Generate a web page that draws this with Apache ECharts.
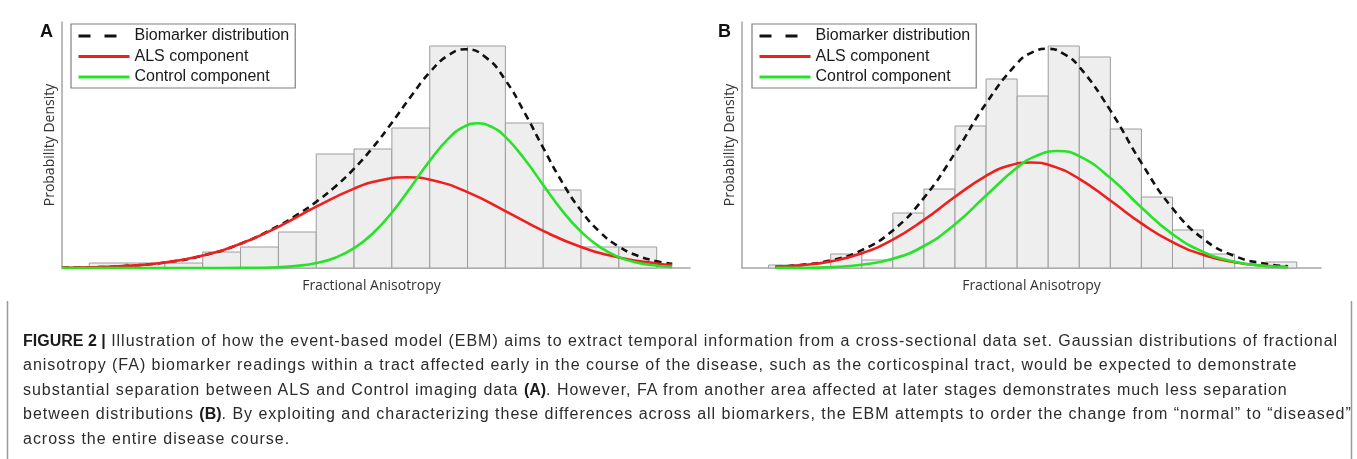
<!DOCTYPE html>
<html>
<head>
<meta charset="utf-8">
<script src="https://cdn.jsdelivr.net/npm/echarts@6/dist/echarts.min.js"></script>
<style>
html,body{margin:0;padding:0;background:#ffffff;}
#wrap{position:relative;width:1357px;height:459px;overflow:hidden;}
#chart{position:absolute;left:0;top:0;width:1357px;height:459px;}
#caption{position:absolute;left:23px;top:328.75px;font-family:'Liberation Sans',Arial,sans-serif;font-size:16px;
  line-height:24.5px;color:#2b2b2b;letter-spacing:0.98px;white-space:nowrap;}
#caption b{letter-spacing:0;color:#1a1a1a;}
</style>
</head>
<body>
<div id="wrap">
<div id="chart"></div>
<div id="caption"></div>
</div>
<script>
// ---------------- DATA ----------------
// Panel A histogram: bar i spans [i, i+1] on the FA axis (bin units)
const histA = [0.05, 0.05, 0.05, 0.16, 0.21, 0.36, 1.14, 1.19, 1.40, 2.22, 2.22, 1.45, 0.78, 0.21, 0.21];
// Panel B histogram
const histB = [0.03, 0, 0.14, 0.08, 0.55, 0.79, 1.42, 1.89, 1.72, 2.22, 2.11, 1.39, 0.71, 0.38, 0.14, 0, 0.06];

// Panel A curves: [x, density]
const totalX_A = [-0.72, 0, 1, 2, 3, 4, 5, 5.5, 6, 6.5, 7, 7.5, 8, 8.5, 9, 9.5, 9.95, 10.5, 11, 11.5, 12, 12.5, 13, 13.5, 14, 14.5, 15, 15.41];
const totalA   = [0.003, 0.007, 0.021, 0.055, 0.124, 0.243, 0.421, 0.533, 0.662, 0.813, 0.993, 1.207, 1.453, 1.714, 1.956, 2.129, 2.187, 2.101, 1.879, 1.559, 1.201, 0.859, 0.573, 0.359, 0.214, 0.122, 0.068, 0.042];
const alsX_A   = [-0.72, 0, 1, 2, 3, 4, 5, 6, 7, 7.7, 8.39, 9.1, 10, 11, 12, 13, 14, 15, 15.41];
const alsA     = [0.003, 0.007, 0.021, 0.055, 0.124, 0.242, 0.412, 0.613, 0.794, 0.878, 0.907, 0.876, 0.759, 0.569, 0.371, 0.211, 0.105, 0.045, 0.031];
const ctrlX_A  = [-0.72, 0, 1, 2, 3, 4, 5, 5.5, 6, 6.5, 7, 7.5, 8, 8.5, 9, 9.5, 9.9, 10.27, 10.65, 11, 11.5, 12, 12.5, 13, 13.5, 14, 14.5, 15, 15.41];
const ctrlA    = [0, 0, 0, 0, 0, 0.001, 0.008, 0.021, 0.049, 0.103, 0.198, 0.348, 0.555, 0.808, 1.072, 1.296, 1.411, 1.447, 1.409, 1.311, 1.092, 0.830, 0.574, 0.362, 0.208, 0.109, 0.052, 0.023, 0.011];

// Panel B curves
const totalX_B = [0.22, 1, 2, 3, 4, 5, 6, 7, 8, 8.5, 9, 9.5, 10, 11, 12, 13, 14, 15, 16, 16.72];
const totalB   = [0.012, 0.029, 0.076, 0.179, 0.376, 0.701, 1.149, 1.646, 2.047, 2.159, 2.192, 2.141, 2.012, 1.576, 1.051, 0.597, 0.289, 0.120, 0.042, 0.018];
const alsX_B   = [0.22, 1, 2, 3, 4, 5, 6, 7, 7.7, 8.42, 9.15, 10, 11, 12, 13, 14, 15, 16, 16.72];
const alsB     = [0.012, 0.026, 0.066, 0.147, 0.284, 0.481, 0.712, 0.921, 1.019, 1.055, 1.018, 0.892, 0.675, 0.446, 0.258, 0.131, 0.058, 0.022, 0.010];
const ctrlX_B  = [0.22, 1, 2, 3, 4, 5, 6, 7, 8, 8.6, 9.3, 10, 11, 12, 13, 14, 15, 16, 16.72];
const ctrlB    = [0.001, 0.002, 0.009, 0.032, 0.092, 0.220, 0.437, 0.725, 1.004, 1.119, 1.170, 1.119, 0.901, 0.605, 0.339, 0.159, 0.062, 0.020, 0.008];

const seriesNames = ['Biomarker distribution', 'ALS component', 'Control component'];
const panelLabels = ['A', 'B'];
const xAxisName = 'Fractional Anisotropy';
const yAxisName = 'Probability Density';
const captionLines = [
  '{b|FIGURE 2 |} Illustration of how the event-based model (EBM) aims to extract temporal information from a cross-sectional data set. Gaussian distributions of fractional',
  'anisotropy (FA) biomarker readings within a tract affected early in the course of the disease, such as the corticospinal tract, would be expected to demonstrate',
  'substantial separation between ALS and Control imaging data {b|(A)}. However, FA from another area affected at later stages demonstrates much less separation',
  'between distributions {b|(B)}. By exploiting and characterizing these differences across all biomarkers, the EBM attempts to order the change from \u201cnormal\u201d to \u201cdiseased\u201d',
  'across the entire disease course.'
];

// ---------------- CAPTION (real text) ----------------
(function () {
  const esc = s => s.replace(/&/g, '&amp;').replace(/</g, '&lt;').replace(/>/g, '&gt;');
  document.getElementById('caption').innerHTML = captionLines.map(line =>
    '<div>' + esc(line).replace(/\{b\|([^}]*)\}/g, '<b>$1</b>') + '</div>').join('');
})();

// ---------------- CHART ----------------
const chart = echarts.init(document.getElementById('chart'), null, {renderer: 'canvas'});

const pair = (xs, ys) => xs.map((x, i) => [x, ys[i]]);
const histData = h => h.map((v, i) => [i, i + 1, v]);

const RED = '#f01f1f', GREEN = '#27e327', BLACK = '#111111';
const AXIS_COLOR = '#a6a6a6';

function renderBar(params, api) {
  const h = api.value(2);
  if (!(h > 0)) return null;
  const p0 = api.coord([api.value(0), h]);
  const p1 = api.coord([api.value(1), 0]);
  return {
    type: 'rect',
    shape: {x: p0[0], y: p0[1], width: p1[0] - p0[0], height: p1[1] - p0[1]},
    style: {fill: '#eeeeee', stroke: '#9c9c9c', lineWidth: 1}
  };
}

function lineSeries(idx, name, data, color, dash) {
  return {name: name, type: 'line', xAxisIndex: idx, yAxisIndex: idx, data: data,
    smooth: 0.5, symbol: 'none', color: color,
    lineStyle: {color: color, width: 2.6, type: dash || 'solid'}};
}

function panelSeries(idx, hist, total, als, ctrl) {
  const s = [
    {type: 'custom', xAxisIndex: idx, yAxisIndex: idx, renderItem: renderBar,
     data: histData(hist), encode: {x: [0, 1], y: 2}, silent: true, z: 1},
    lineSeries(idx, seriesNames[0], total, BLACK, [7, 5]),
    lineSeries(idx, seriesNames[1], als, RED),
    lineSeries(idx, seriesNames[2], ctrl, GREEN)
  ];
  s[1].z = 3; s[2].z = 4; s[3].z = 5;
  return s;
}

function xAxisDef(idx, min, max, padRight) {
  return {
    type: 'value', gridIndex: idx, min: min, max: max,
    axisLine: {show: true, onZero: false, lineStyle: {color: AXIS_COLOR, width: 1.5}},
    axisTick: {show: false}, axisLabel: {show: false}, splitLine: {show: false},
    name: xAxisName, nameLocation: 'middle', nameGap: 11,
    nameTextStyle: {fontFamily: 'Open Sans', fontSize: 14, color: '#333', padding: [0, padRight, 0, 0]}
  };
}
function yAxisDef(idx) {
  return {
    type: 'value', gridIndex: idx, min: 0, max: 2.46,
    axisLine: {show: true, onZero: false, lineStyle: {color: AXIS_COLOR, width: 1.5}},
    axisTick: {show: false}, axisLabel: {show: false}, splitLine: {show: false},
    name: yAxisName, nameLocation: 'middle', nameGap: 5,
    nameTextStyle: {fontFamily: 'Open Sans', fontSize: 14, color: '#333'}
  };
}
function legendDef(left) {
  return {
    left: left, top: 24, orient: 'vertical',
    itemWidth: 51, itemHeight: 16, itemGap: 4.5,
    padding: [4, 6, 3, 6],
    borderColor: '#808080', borderWidth: 1.2, borderRadius: 0,
    backgroundColor: '#ffffff',
    selectedMode: false,
    itemStyle: {opacity: 0},
    textStyle: {fontFamily: 'Liberation Sans', fontSize: 16, color: '#1a1a1a', lineHeight: 16},
    data: [
      {name: seriesNames[0], itemStyle: {opacity: 0}, lineStyle: {type: [12, 14], width: 3, color: BLACK}},
      {name: seriesNames[1], itemStyle: {opacity: 0}, lineStyle: {width: 3, color: RED}},
      {name: seriesNames[2], itemStyle: {opacity: 0}, lineStyle: {width: 3, color: GREEN}}
    ]
  };
}

const graphics = [];
graphics.push({type: 'text', left: 40, top: 23, silent: true,
  style: {text: panelLabels[0], fontFamily: 'Liberation Sans', fontWeight: 'bold', fontSize: 18, fill: '#111'}});
graphics.push({type: 'text', left: 718, top: 23, silent: true,
  style: {text: panelLabels[1], fontFamily: 'Liberation Sans', fontWeight: 'bold', fontSize: 18, fill: '#111'}});
graphics.push({type: 'line', silent: true, shape: {x1: 7.5, y1: 301, x2: 7.5, y2: 459}, style: {stroke: '#9a9a9a', lineWidth: 1.5}});
graphics.push({type: 'line', silent: true, shape: {x1: 1351.5, y1: 301, x2: 1351.5, y2: 459}, style: {stroke: '#9a9a9a', lineWidth: 1.5}});

const option = {
  backgroundColor: '#ffffff',
  animation: false,
  grid: [
    {left: 62, right: 667, top: 22, bottom: 191, outerBoundsMode: 'none', containLabel: false},
    {left: 742, right: 36, top: 22, bottom: 191, outerBoundsMode: 'none', containLabel: false}
  ],
  xAxis: [xAxisDef(0, -0.72, 15.88, 9), xAxisDef(1, -0.856, 17.78, 0)],
  yAxis: [yAxisDef(0), yAxisDef(1)],
  legend: [legendDef(71), legendDef(752)],
  series: [].concat(
    panelSeries(0, histA, pair(totalX_A, totalA), pair(alsX_A, alsA), pair(ctrlX_A, ctrlA)),
    panelSeries(1, histB, pair(totalX_B, totalB), pair(alsX_B, alsB), pair(ctrlX_B, ctrlB))
  ),
  graphic: graphics
};
chart.setOption(option);
</script>
</body>
</html>
